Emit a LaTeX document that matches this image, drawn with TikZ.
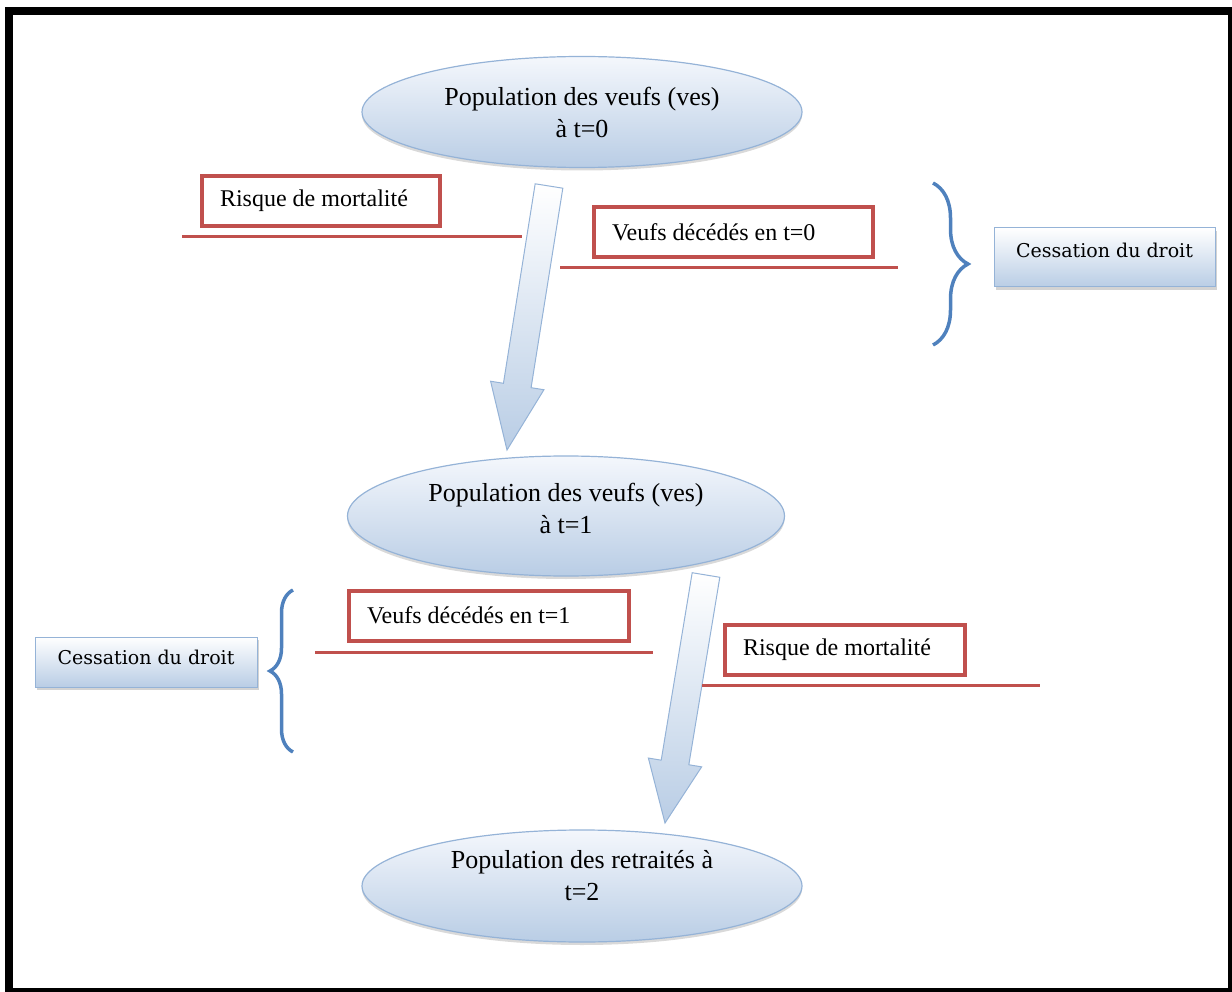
\documentclass[tikz,border=0pt]{standalone}
\usepackage{fontspec}
\setmainfont{Liberation Serif}
\newfontfamily\cessfont{DejaVu Serif}
\usepackage{tikz}
\usetikzlibrary{calc,shapes.geometric,shadows,decorations.pathreplacing}
\definecolor{edgered}{RGB}{192,80,77}
\definecolor{bracecol}{RGB}{79,129,189}
\definecolor{paleblue}{RGB}{185,205,229}
\definecolor{topblue}{RGB}{244,247,252}
\definecolor{edgeblue}{RGB}{149,179,215}
\tikzset{
  popel/.style={ellipse,draw=edgeblue,line width=1.2pt,top color=topblue,bottom color=paleblue,
                align=flush center,inner sep=2pt,font=\fontsize{26}{32}\selectfont,
                drop shadow={shadow xshift=0pt,shadow yshift=-3pt,opacity=.3}},
  rbox/.style={draw=edgered,line width=4pt,fill=white,align=flush left,inner xsep=18pt,inner ysep=0pt,
               outer sep=0pt,minimum height=50pt,font=\fontsize{24}{28}\selectfont},
  rrule/.style={draw=edgered,line width=3pt},
  cess/.style={draw=edgeblue,line width=1pt,top color=white,bottom color=paleblue,align=center,
               font=\cessfont\fontsize{19}{22}\selectfont,
               drop shadow={shadow xshift=2pt,shadow yshift=-3pt,opacity=.35}},
  brc/.style={decorate,draw=bracecol,line width=3.5pt},
  barrow/.style={draw=edgeblue,line width=1pt,top color=white,bottom color=paleblue},
}
\begin{document}
\begin{tikzpicture}[x=1pt,y=-1pt]
  \useasboundingbox (0,0) rectangle (1232,992);
  \draw[line width=8pt] (9,11) rectangle (1232,992);

  \node[popel,minimum width=440pt,minimum height=111pt] (pv0) at (582,112)
    {Population des veufs (ves)\\à t=0};
  \node[popel,minimum width=437pt,minimum height=120pt,text depth=14.5pt] (pv1) at (566,516)
    {Population des veufs (ves)\\à t=1};
  \node[popel,minimum width=440pt,minimum height=112pt,text depth=20.5pt] (pr2) at (582,886)
    {Population des retraités à\\t=2};

  \coordinate (a0s) at (549,186);
  \coordinate (a0e) at (507,450);
  \coordinate (a0b) at ($(a0s)!202pt!(a0e)$);
  \shade[barrow] ($(a0s)!14pt!-90:(a0e)$) -- ($(a0s)!14pt!90:(a0e)$)
    -- ($(a0b)!14pt!90:(a0e)$) -- ($(a0b)!27pt!90:(a0e)$) -- (a0e)
    -- ($(a0b)!27pt!-90:(a0e)$) -- ($(a0b)!14pt!-90:(a0e)$) -- cycle;
  \coordinate (a1s) at (706,575);
  \coordinate (a1e) at (665,823);
  \coordinate (a1b) at ($(a1s)!190pt!(a1e)$);
  \shade[barrow] ($(a1s)!14pt!-90:(a1e)$) -- ($(a1s)!14pt!90:(a1e)$)
    -- ($(a1b)!14pt!90:(a1e)$) -- ($(a1b)!27pt!90:(a1e)$) -- (a1e)
    -- ($(a1b)!27pt!-90:(a1e)$) -- ($(a1b)!14pt!-90:(a1e)$) -- cycle;

  \node[rbox,text width=202pt] (rm0) at (321,201)     {Risque de mortalité};
  \node[rbox,text width=243pt] (vd0) at (733.5,232.5) {Veufs décédés en t=0};
  \node[rbox,text width=244pt] (vd1) at (489,615.5)   {Veufs décédés en t=1};
  \node[rbox,text width=204pt] (rm1) at (845,650)     {Risque de mortalité};

  \draw[rrule] ([shift={(-20,11)}]rm0.south west) -- ++(340,0);
  \draw[rrule] ([shift={(-34,10)}]vd0.south west) -- ++(338,0);
  \draw[rrule] ([shift={(-34,11.5)}]vd1.south west) -- ++(338,0);
  \draw[rrule] ([shift={(-23,10)}]rm1.south west) -- ++(338,0);

  \draw[brc,decoration={brace,amplitude=35pt}] (933,183) -- (933,345);
  \draw[brc,decoration={brace,amplitude=23pt}] (293,752) -- (293,590);

  \node[cess,minimum width=221pt,minimum height=59pt,text depth=14pt] (cs0) at (1104.5,257.5) {Cessation du droit};
  \node[cess,minimum width=222pt,minimum height=50pt,text depth=9pt] (cs1) at (146,662) {Cessation du droit};
\end{tikzpicture}
\end{document}
